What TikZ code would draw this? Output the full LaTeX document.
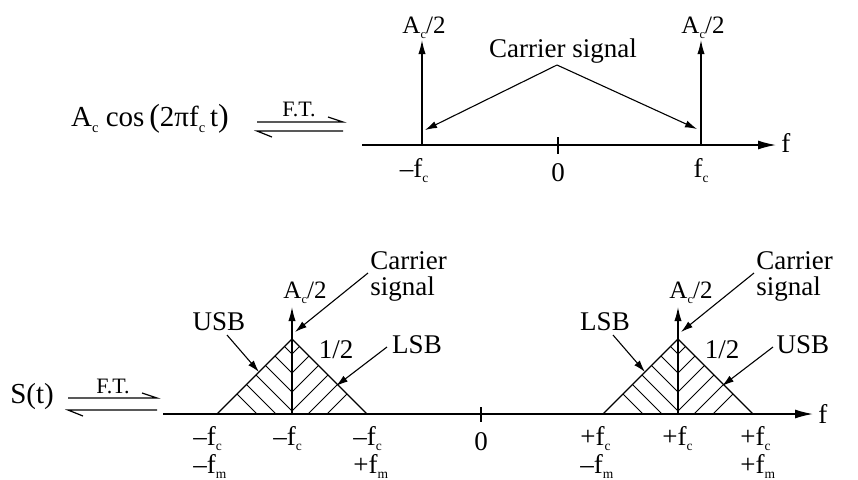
\documentclass[tikz,border=0pt]{standalone}
\usepackage{fontspec}
\setmainfont{Liberation Serif}
\usepackage{graphicx}
\usetikzlibrary{arrows.meta}

% small lowered subscript, as in the figure
\newcommand{\sbs}[1]{\raisebox{-0.45ex}{\scalebox{0.5}{#1}}}

\begin{document}
\begin{tikzpicture}[
      x=0.5pt, y=-0.5pt,
      axis/.style={-{Latex[length=9pt,width=4.5pt]}, line width=0.7pt},
      impulse/.style={-{Latex[length=7pt,width=3.6pt]}, line width=0.6pt},
      pointer/.style={-{Latex[length=6pt,width=3.6pt]}, line width=0.55pt},
      hatch/.style={line width=0.5pt},
      harp/.style={line width=0.6pt},
      big/.style={inner sep=0pt, anchor=base, font=\fontsize{13.5}{15}\selectfont},
      ax/.style={inner sep=0pt, anchor=base, font=\fontsize{13.5}{14}\selectfont},
      lbl/.style={inner sep=0pt, anchor=base, font=\fontsize{13.5}{14}\selectfont},
      amp/.style={inner sep=0pt, anchor=base, font=\fontsize{12.5}{13}\selectfont},
      ftlbl/.style={inner sep=0pt, anchor=base, font=\fontsize{11}{12}\selectfont},
    ]
    \useasboundingbox (0,0) rectangle (858,479);

    % ---------- top: carrier and its spectrum ----------
    \node[big, font=\fontsize{14.5}{16}\selectfont] (sig) at (150,126)
      {A\sbs{c}\ cos\,{\fontsize{16}{16}\selectfont(}2πf\sbs{c}\,t{\fontsize{16}{16}\selectfont)}};
    \node[ftlbl] (ft1) at (299,116) {F.T.};

    \coordinate (h1a) at (257,122);
    \coordinate (h1b) at (343,122);
    \coordinate (h1c) at (257,131);
    \coordinate (h1d) at (343,131);
    \draw[harp] (h1a) -- (h1b) -- ++(-15,-5);
    \draw[harp] (h1d) -- (h1c) -- ++(15,6);

    \coordinate (o1) at (362,145);
    \coordinate (e1) at (776,145);
    \draw[axis] (o1) -- (e1);
    \node[big, anchor=base west] (f1) at (781,152) {f};

    \foreach \n/\x in {m/422, p/701}{
      \coordinate (b\n) at (\x,145);
      \coordinate (t\n) at (\x,40);
      \draw[impulse] (b\n) -- (t\n);
      \node[amp] (a\n) at (\x+2,33) {A\sbs{c}/2};
    }

    \coordinate (k1a) at (558,137);
    \coordinate (k1b) at (558,154);
    \draw[line width=0.6pt] (k1a) -- (k1b);

    \node[ax] (lm) at (414,177) {--f\sbs{c}};
    \node[ax] (l0) at (558,181) {0};
    \node[ax] (lp) at (701,177) {f\sbs{c}};

    \node[big] (car) at (563,57) {Carrier signal};
    \coordinate (cv) at (557,65);
    \coordinate (cm) at (425,130);
    \coordinate (cp) at (697,129);
    \draw[pointer] (cv) -- (cm);
    \draw[pointer] (cv) -- (cp);

    % ---------- bottom: AM spectrum ----------
    \node[lbl, font=\fontsize{14.5}{15}\selectfont] (st) at (32,403) {S(t)};
    \node[ftlbl] (ft2) at (113,393) {F.T.};

    \coordinate (h2a) at (68,398);
    \coordinate (h2b) at (157,398);
    \coordinate (h2c) at (68,410);
    \coordinate (h2d) at (157,410);
    \draw[harp] (h2a) -- (h2b) -- ++(-15,-5);
    \draw[harp] (h2d) -- (h2c) -- ++(15,6);

    \coordinate (o2) at (163,414);
    \coordinate (e2) at (813,414);
    \draw[axis] (o2) -- (e2);
    \node[big, anchor=base west] (f2) at (818,423) {f};

    \coordinate (k2a) at (481,407);
    \coordinate (k2b) at (481,422);
    \draw[line width=0.6pt] (k2a) -- (k2b);
    \node[ax] (z2) at (481,450) {0};

    % sidebands round -fc and +fc
    \foreach \c/\lft/\rgt in {292/USB/LSB, 678/LSB/USB}{
      \coordinate (bl\c) at (\c-75,414);
      \coordinate (ap\c) at (\c,339);
      \coordinate (br\c) at (\c+75,414);
      \draw[line width=0.6pt] (bl\c) -- (ap\c) -- (br\c);
      % chevron hatching, at right angles to the sides
      \foreach \a in {35,16,-3,-22,-41,-60}{
        \draw[hatch] ({\c+max(\a,0)},{414+min(\a,0)}) -- ({\c+(75+\a)/2},{414-(75-\a)/2});
        \draw[hatch] ({\c-max(\a,0)},{414+min(\a,0)}) -- ({\c-(75+\a)/2},{414-(75-\a)/2});
      }
      \coordinate (cb\c) at (\c,414);
      \coordinate (ct\c) at (\c,307);
      \draw[impulse] (cb\c) -- (ct\c);
      \node[amp] (amp\c) at (\c+13,298) {A\sbs{c}/2};
      \node[lbl] (half\c) at (\c+44,358) {1/2};

      \node[lbl] (lf\c) at (\c-73,330) {\lft};
      \coordinate (lfs\c) at (\c-65,335);
      \coordinate (lft\c) at (\c-33,372);
      \draw[pointer] (lfs\c) -- (lft\c);

      \node[lbl] (rt\c) at (\c+125,353) {\rgt};
      \coordinate (rts\c) at (\c+95,347);
      \coordinate (rtt\c) at (\c+44,386);
      \draw[pointer] (rts\c) -- (rtt\c);

      \node[lbl, anchor=base west] (cr\c) at (\c+78,269) {Carrier};
      \node[lbl, anchor=base west] (sg\c) at (\c+78,295) {signal};
      \coordinate (cs\c) at (\c+76,273);
      \coordinate (ce\c) at (\c+3,332);
      \draw[pointer] (cs\c) -- (ce\c);
    }

    % frequency labels under the axis
    \node[ax, anchor=base west] (q1) at (193,445) {--f\sbs{c}};
    \node[ax, anchor=base west] (q2) at (193,473) {--f\sbs{m}};
    \node[ax, anchor=base west] (q3) at (273,445) {--f\sbs{c}};
    \node[ax, anchor=base west] (q4) at (353,445) {--f\sbs{c}};
    \node[ax, anchor=base west] (q5) at (353,473) {+f\sbs{m}};
    \node[ax, anchor=base west] (q6) at (580,445) {+f\sbs{c}};
    \node[ax, anchor=base west] (q7) at (580,473) {--f\sbs{m}};
    \node[ax, anchor=base west] (q8) at (662,445) {+f\sbs{c}};
    \node[ax, anchor=base west] (q9) at (740,445) {+f\sbs{c}};
    \node[ax, anchor=base west] (q10) at (740,473) {+f\sbs{m}};

  \end{tikzpicture}
\end{document}
